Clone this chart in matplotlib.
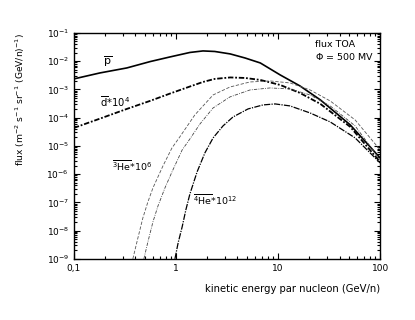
import matplotlib
matplotlib.use("Agg")
import matplotlib.pyplot as plt
from matplotlib.ticker import LogLocator, FixedLocator, FixedFormatter, NullFormatter

plt.rcParams['font.family'] = ['DejaVu Sans']
plt.rcParams['mathtext.fontset'] = 'dejavusans'

# antiproton
E_pbar = [0.1, 0.18, 0.33, 0.56, 0.87, 1.37, 1.84, 2.4, 3.4, 4.75, 6.7, 10.5, 16.4, 26, 51, 100]
F_pbar = [2.36e-3, 3.84e-3, 5.77e-3, 9.72e-3, 1.41e-2, 2.04e-2, 2.31e-2, 2.21e-2, 1.81e-2,
          1.30e-2, 8.67e-3, 3.26e-3, 1.33e-3, 4.25e-4, 5.53e-5, 3.76e-6]
# antideuteron * 1e4
E_dbar = [0.1, 0.18, 0.33, 0.56, 0.87, 1.37, 1.84, 2.4, 3.4, 4.75, 6.7, 10.5, 16.4, 26, 51, 100]
F_dbar = [4.34e-5, 9.25e-5, 2.04e-4, 3.95e-4, 7.10e-4, 1.27e-3, 1.84e-3, 2.36e-3, 2.66e-3,
          2.55e-3, 2.17e-3, 1.44e-3, 7.52e-4, 3.07e-4, 4.71e-5, 2.72e-6]
# anti-3He * 1e6 (two curves)
E_he3a = [0.378, 0.424, 0.474, 0.531, 0.595, 0.746, 0.914, 1.09, 1.53, 2.31, 3.38, 5.31,
          8.35, 13.1, 20.6, 32.4, 56.9, 100]
F_he3a = [1.0e-9, 5.53e-9, 2.82e-8, 1.04e-7, 3.26e-7, 1.96e-6, 8.49e-6, 2.08e-5, 1.25e-4,
          6.38e-4, 1.22e-3, 1.84e-3, 2.00e-3, 1.70e-3, 9.59e-4, 3.92e-4, 8.32e-5, 7.21e-6]
E_he3b = [0.485, 0.531, 0.595, 0.667, 0.780, 0.914, 1.15, 1.37, 1.72, 2.31, 3.38, 5.31,
          8.35, 13.1, 20.6, 32.4, 56.9, 100]
F_he3b = [1.0e-9, 4.0e-9, 2.04e-8, 7.52e-8, 3.26e-7, 1.20e-6, 7.21e-6, 1.77e-5, 6.01e-5,
          2.21e-4, 5.43e-4, 9.59e-4, 1.13e-3, 1.04e-3, 6.38e-4, 2.61e-4, 5.11e-5, 3.19e-6]
# anti-4He * 1e12
E_he4 = [0.977, 1.05, 1.15, 1.25, 1.37, 1.61, 1.92, 2.31, 2.89, 3.62, 5.08, 7.13, 9.35,
         13.1, 20.6, 32.4, 56.9, 100]
F_he4 = [1.0e-9, 3.68e-9, 1.36e-8, 5.43e-8, 2.00e-7, 1.20e-6, 5.65e-6, 1.92e-5, 5.11e-5,
         1.06e-4, 2.04e-4, 2.83e-4, 3.07e-4, 2.61e-4, 1.47e-4, 7.08e-5, 1.92e-5, 2.50e-6]

x_ticks = [0.1, 1, 10, 100]
x_labels = ["0,1", "1", "10", "100"]
y_ticks = [1e-1, 1e-2, 1e-3, 1e-4, 1e-5, 1e-6, 1e-7, 1e-8, 1e-9]
y_labels = [r"$10^{-%d}$" % k for k in range(1, 10)]

fig = plt.figure(figsize=(4.15, 3.2), dpi=100)
ax = fig.add_axes([0.178, 0.191, 0.738, 0.706])

ax.plot(E_pbar, F_pbar, color='black', lw=1.2, ls='-')
ax.plot(E_dbar, F_dbar, color='black', lw=1.3, ls=(0, (3, 1, 1, 1)))
ax.plot(E_he3a, F_he3a, color='#555555', lw=0.6, ls=(0, (4, 2)))
ax.plot(E_he3b, F_he3b, color='#444444', lw=0.6, ls=(0, (4, 1.5, 1, 1.5)))
ax.plot(E_he4, F_he4, color='black', lw=0.9, ls=(0, (5, 1, 1, 1)))

ax.set_xscale('log')
ax.set_yscale('log')
ax.set_xlim(0.1, 100)
ax.set_ylim(1e-9, 1e-1)

ax.xaxis.set_major_locator(FixedLocator(x_ticks))
ax.xaxis.set_major_formatter(FixedFormatter(x_labels))
ax.xaxis.set_minor_locator(LogLocator(base=10, subs=range(2, 10), numticks=20))
ax.xaxis.set_minor_formatter(NullFormatter())
ax.yaxis.set_major_locator(FixedLocator(y_ticks))
ax.yaxis.set_major_formatter(FixedFormatter(y_labels))
ax.yaxis.set_minor_locator(LogLocator(base=10, subs=range(2, 10), numticks=20))
ax.yaxis.set_minor_formatter(NullFormatter())

ax.tick_params(which='both', direction='in', top=True, right=True, labelsize=6.5, width=0.8)
ax.tick_params(which='major', length=4)
ax.tick_params(which='minor', length=2)
for s in ax.spines.values():
    s.set_linewidth(1.0)

fig.text(0.05, 0.897, r"flux (m$^{-2}$ s$^{-1}$ sr$^{-1}$ (GeV/n)$^{-1}$)", fontsize=6.6,
         rotation=90, ha='center', va='top')
ax.text(1.0, -0.11, "kinetic energy par nucleon (GeV/n)", transform=ax.transAxes,
        ha='right', va='top', fontsize=7.2)

ax.text(0.788, 0.951, "flux TOA", transform=ax.transAxes, ha='left', va='center', fontsize=6.8)
ax.text(0.788, 0.898, r"$\Phi$ = 500 MV", transform=ax.transAxes, ha='left', va='center', fontsize=6.8)

ax.text(0.095, 0.872, r"$\overline{\mathrm{p}}$", transform=ax.transAxes, fontsize=8, ha='left', va='center')
ax.text(0.085, 0.695, r"$\overline{\mathrm{d}}$*10$^{4}$", transform=ax.transAxes, fontsize=7.2, ha='left', va='center')
ax.text(0.124, 0.41, r"$\overline{^{3}\mathrm{He}}$*10$^{6}$", transform=ax.transAxes, fontsize=6.8, ha='left', va='center')
ax.text(0.389, 0.26, r"$\overline{^{4}\mathrm{He}}$*10$^{12}$", transform=ax.transAxes, fontsize=6.8, ha='left', va='center')

fig.savefig("out.png", dpi=100)
